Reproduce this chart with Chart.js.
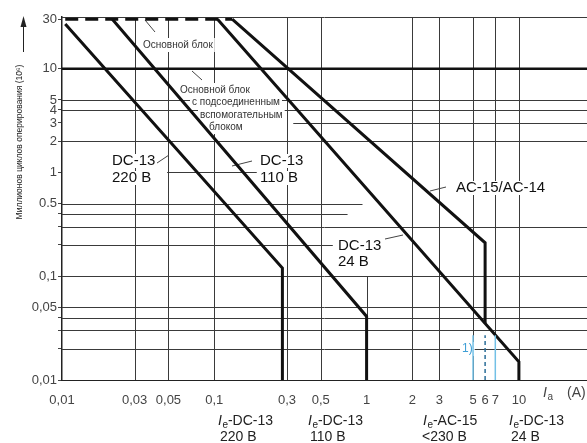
<!DOCTYPE html>
<html>
<head>
<meta charset="utf-8">
<script src="https://cdn.jsdelivr.net/npm/chart.js@4.4.1/dist/chart.umd.min.js"></script>
<style>
  html, body { margin: 0; padding: 0; background: #fff; }
  canvas { display: block; }
</style>
</head>
<body>
<canvas id="lifeChart" width="587" height="443"></canvas>
<script>
// tick positions and labels
const xTicks = [0.01, 0.03, 0.05, 0.1, 0.3, 0.5, 1, 2, 3, 5, 6, 7, 10];
const xTickLabels = ["0,01", "0,03", "0,05", "0,1", "0,3", "0,5", "1", "2", "3", "5", "6", "7", "10"];
const yTicks = [0.01, 0.02, 0.03, 0.04, 0.05, 0.1, 0.2, 0.3, 0.4, 0.5, 1, 2, 3, 4, 5, 10, 30];
const yTickLabels = ["0,01", "", "", "", "0,05", "0,1", "", "", "", "0.5", "1", "2", "3", "4", "5", "10", "30"];

// curves (current in A, millions of cycles)
const dc220X = [0.0105, 0.28, 0.28];
const dc220Y = [27, 0.12, 0.01];
const dc110X = [0.0214, 1, 1];
const dc110Y = [30, 0.041, 0.01];
const dc24X = [0.105, 10, 10];
const dc24Y = [30, 0.015, 0.01];
const acX = [0.131, 6, 6];
const acY = [30, 0.21, 0.035];

// limits: main block (30) and with auxiliary block (10)
const mainLimitX = [0.0105, 0.131];
const mainLimitY = [30, 30];
const auxLimitX = [0.01, 28];
const auxLimitY = [10, 10];

// footnote 1) markers
const noteX = [5, 6, 7];
const noteTop = 0.027;

const pts = (xs, ys) => xs.map((x, i) => ({ x: x, y: ys[i] }));

const FONT = '"Liberation Sans", Arial, sans-serif';
const INK = "#111";

const curve = (xs, ys, extra) => Object.assign({
    data: pts(xs, ys),
    borderColor: INK,
    borderWidth: 3,
    pointRadius: 0,
    tension: 0,
    fill: false,
    clip: false,
}, extra || {});

const datasets = noteX.map((x, i) => curve([x, x], [0.01, noteTop], {
    borderColor: i === 1 ? "#2b6e98" : "#72c0e6",
    borderWidth: 1.5,
    borderDash: i === 1 ? [4, 3] : [],
}));
datasets.push(
    curve(auxLimitX, auxLimitY, { borderWidth: 2.5 }),
    curve(mainLimitX, mainLimitY, { borderDash: [13, 7] }),
    curve(dc220X, dc220Y),
    curve(dc110X, dc110Y),
    curve(dc24X, dc24Y),
    curve(acX, acY)
);

// grid segments: [value, from, to] (null = axis end)
const hGrid = [[5], [4], [3, 0.33], [2], [1, 0.049, 0.19], [0.5, null, 0.94], [0.4, null, 0.75],
    [0.3], [0.2, null, 0.6], [0.1], [0.05], [0.04], [0.03], [0.02]];
const vGrid = [[0.03], [0.05], [0.1], [0.3], [0.5], [1, 0.01, 0.1], [2], [3], [5], [7], [10]];

function line(ctx, x1, y1, x2, y2) {
    ctx.beginPath();
    ctx.moveTo(x1, y1);
    ctx.lineTo(x2, y2);
    ctx.stroke();
}

function boxText(ctx, text, x, y, font, color) {
    ctx.font = font;
    const w = ctx.measureText(text).width;
    ctx.fillStyle = "#fff";
    ctx.fillRect(x - 2, y - 7, w + 4, 14);
    ctx.fillStyle = color;
    ctx.textAlign = "left";
    ctx.textBaseline = "middle";
    ctx.fillText(text, x, y);
}

function subLabel(ctx, main, sub, rest, x, y, color) {
    ctx.fillStyle = color;
    ctx.textAlign = "left";
    ctx.textBaseline = "middle";
    ctx.font = "italic 14px " + FONT;
    ctx.fillText(main, x, y);
    x += ctx.measureText(main).width + 0.5;
    ctx.font = "10px " + FONT;
    ctx.fillText(sub, x, y + 4);
    x += ctx.measureText(sub).width;
    ctx.font = "14px " + FONT;
    ctx.fillText(rest, x, y);
}

const gridPlugin = {
    id: "partialGrid",
    beforeDatasetsDraw(chart) {
        const { ctx, chartArea: a, scales: { x, y } } = chart;
        ctx.save();
        ctx.strokeStyle = "#3a3a3a";
        ctx.lineWidth = 1;
        line(ctx, a.left, Math.round(a.top) + 0.5, a.right, Math.round(a.top) + 0.5);
        hGrid.forEach(([v, from, to]) => {
            const py = Math.round(y.getPixelForValue(v)) + 0.5;
            const x1 = from ? x.getPixelForValue(from) : a.left;
            const x2 = to ? x.getPixelForValue(to) : a.right;
            line(ctx, x1, py, x2, py);
        });
        vGrid.forEach(([v, from, to]) => {
            const px = Math.round(x.getPixelForValue(v)) + 0.5;
            const y1 = from ? y.getPixelForValue(from) : a.bottom;
            const y2 = to ? y.getPixelForValue(to) : a.top;
            line(ctx, px, y1, px, y2);
        });

        // annotations inside the plot
        const small = "10px " + FONT;
        const big = "15px " + FONT;
        boxText(ctx, "Основной блок", 143, 45, small, "#333");
        boxText(ctx, "Основной блок", 180, 90, small, "#333");
        boxText(ctx, "с подсоединенным", 192, 102, small, "#333");
        boxText(ctx, "вспомогательным", 200, 115, small, "#333");
        boxText(ctx, "блоком", 209, 127, small, "#333");
        boxText(ctx, "DC-13", 112, 161, big, "#111");
        boxText(ctx, "220 B", 112, 178, big, "#111");
        boxText(ctx, "DC-13", 260, 161, big, "#111");
        boxText(ctx, "110 B", 260, 178, big, "#111");
        boxText(ctx, "DC-13", 338, 246, big, "#111");
        boxText(ctx, "24 B", 338, 262, big, "#111");
        boxText(ctx, "AC-15/AC-14", 456, 188, big, "#111");
        boxText(ctx, "1)", 462, 349, "12px " + FONT, "#3f9fd6");

        ctx.strokeStyle = "#444";
        ctx.lineWidth = 1;
        line(ctx, 145, 20, 155, 32);
        line(ctx, 192, 71, 202, 80);
        line(ctx, 157, 163, 169, 155);
        line(ctx, 232, 166, 252, 161);
        line(ctx, 385, 239, 403, 235);
        line(ctx, 430, 191, 446, 187);
        ctx.restore();
    },
    afterDraw(chart) {
        const { ctx } = chart;
        ctx.save();
        subLabel(ctx, "I", "e", "-DC-13", 218, 421, "#222");
        ctx.font = "14px " + FONT;
        ctx.fillText("220 B", 220, 437);
        subLabel(ctx, "I", "e", "-DC-13", 308, 421, "#222");
        ctx.fillText("110 B", 310, 437);
        subLabel(ctx, "I", "e", "-AC-15", 423, 421, "#222");
        ctx.fillText("<230 B", 422, 437);
        subLabel(ctx, "I", "e", "-DC-13", 509, 421, "#222");
        ctx.fillText("24 B", 511, 437);

        // current axis label
        subLabel(ctx, "I", "a", "", 543, 393, "#444");
        ctx.font = "14px " + FONT;
        ctx.fillText("(A)", 567, 393);

        // vertical axis title with arrow
        ctx.fillStyle = "#222";
        ctx.strokeStyle = "#222";
        ctx.lineWidth = 1;
        line(ctx, 23.5, 52, 23.5, 24);
        ctx.beginPath();
        ctx.moveTo(23.5, 16);
        ctx.lineTo(20.5, 27);
        ctx.lineTo(26.5, 27);
        ctx.closePath();
        ctx.fill();
        ctx.translate(20, 142);
        ctx.rotate(-Math.PI / 2);
        ctx.font = "8.5px " + FONT;
        ctx.textAlign = "center";
        ctx.textBaseline = "middle";
        ctx.fillText("Миллионов циклов оперирования (10⁶)", 0, 0);
        ctx.restore();
    },
};

new Chart(document.getElementById("lifeChart").getContext("2d"), {
    type: "line",
    data: { datasets: datasets },
    options: {
        responsive: false,
        animation: false,
        layout: { padding: { top: 17, right: 0, bottom: 0, left: 0 } },
        plugins: {
            legend: { display: false },
            tooltip: { enabled: false },
        },
        scales: {
            x: {
                type: "logarithmic",
                min: 0.01,
                max: 28,
                afterBuildTicks: (s) => { s.ticks = xTicks.map((v) => ({ value: v })); },
                afterFit: (s) => { s.height = 63; },
                grid: { display: false },
                border: { display: true, color: "#222", width: 1 },
                ticks: {
                    autoSkip: false,
                    maxRotation: 0,
                    padding: 5,
                    color: "#444",
                    font: { family: FONT, size: 13 },
                    callback: (v, i) => xTickLabels[i],
                },
            },
            y: {
                type: "logarithmic",
                min: 0.01,
                max: 31.5,
                afterBuildTicks: (s) => { s.ticks = yTicks.map((v) => ({ value: v })); },
                afterFit: (s) => { s.width = 62; },
                grid: { drawOnChartArea: false, drawTicks: true, tickLength: 4, color: "#444" },
                border: { display: true, color: "#222", width: 1.5 },
                ticks: {
                    autoSkip: false,
                    padding: 1,
                    color: "#444",
                    font: { family: FONT, size: 13 },
                    callback: (v, i) => yTickLabels[i],
                },
            },
        },
    },
    plugins: [gridPlugin],
});
</script>
</body>
</html>
